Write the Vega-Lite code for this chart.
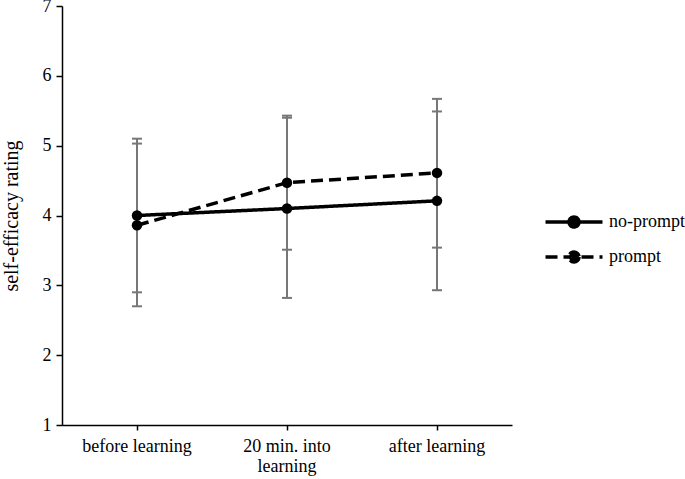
{
  "$schema": "https://vega.github.io/schema/vega-lite/v6.json",
  "width": 450,
  "height": 419,
  "autosize": {"type": "none"},
  "padding": {"left": 62, "top": 6, "right": 173, "bottom": 54},
  "background": "white",
  "config": {
    "view": {"stroke": null},
    "font": "Liberation Serif",
    "axis": {"labelFont": "Liberation Serif", "titleFont": "Liberation Serif", "labelColor": "black", "titleColor": "black", "domainColor": "black", "tickColor": "black", "domainWidth": 1.5, "tickWidth": 1.5, "grid": false},
    "legend": {"labelFont": "Liberation Serif", "labelColor": "black"}
  },
  "data": {
    "values": [
      {"time": "before learning", "series": "no-prompt", "mean": 4.00, "lo": 2.90, "hi": 5.10},
      {"time": "20 min. into learning", "series": "no-prompt", "mean": 4.10, "lo": 2.82, "hi": 5.40},
      {"time": "after learning", "series": "no-prompt", "mean": 4.21, "lo": 2.93, "hi": 5.49},
      {"time": "before learning", "series": "prompt", "mean": 3.86, "lo": 2.70, "hi": 5.03},
      {"time": "20 min. into learning", "series": "prompt", "mean": 4.47, "lo": 3.51, "hi": 5.43},
      {"time": "after learning", "series": "prompt", "mean": 4.61, "lo": 3.54, "hi": 5.67}
    ]
  },
  "encoding": {
    "x": {
      "field": "time", "type": "nominal",
      "sort": ["before learning", "20 min. into learning", "after learning"],
      "scale": {"paddingInner": 0, "paddingOuter": 0},
      "axis": {
        "title": null, "labelAngle": 0, "labelFontSize": 18, "labelPadding": 7, "tickSize": 5,
        "labelLineHeight": 20,
        "labelExpr": "datum.label == '20 min. into learning' ? ['20 min. into', 'learning'] : datum.label"
      }
    }
  },
  "layer": [
    {
      "mark": {"type": "rule", "color": "#777777", "strokeWidth": 2},
      "encoding": {
        "y": {"field": "lo", "type": "quantitative", "scale": {"domain": [1, 7], "nice": false, "zero": false},
          "axis": {"title": "self-efficacy rating", "titleFontSize": 20, "titleFontWeight": "normal", "titlePadding": 21, "labelFontSize": 18, "labelPadding": 5, "tickSize": 6, "format": "d", "values": [1, 2, 3, 4, 5, 6, 7]}},
        "y2": {"field": "hi"},
        "detail": {"field": "series"}
      }
    },
    {
      "mark": {"type": "tick", "color": "#777777", "thickness": 2, "size": 10, "orient": "horizontal", "opacity": 1},
      "encoding": {"y": {"field": "lo", "type": "quantitative"}}
    },
    {
      "mark": {"type": "tick", "color": "#777777", "thickness": 2, "size": 10, "orient": "horizontal", "opacity": 1},
      "encoding": {"y": {"field": "hi", "type": "quantitative"}}
    },
    {
      "mark": {"type": "line", "color": "black", "strokeWidth": 3.5, "strokeCap": "butt"},
      "encoding": {
        "y": {"field": "mean", "type": "quantitative"},
        "strokeDash": {
          "field": "series", "type": "nominal",
          "scale": {"domain": ["no-prompt", "prompt"], "range": [[1, 0], [12, 6]]},
          "legend": {
            "title": null, "orient": "none", "legendX": 500, "legendY": 204,
            "symbolType": "M-2.85,0H2.85M0.5,0A0.5,0.5 0 1,1 -0.5,0A0.5,0.5 0 1,1 0.5,0Z",
            "symbolSize": 400, "symbolStrokeWidth": 3.5, "symbolStrokeColor": "black", "symbolFillColor": "black",
            "labelFontSize": 18, "labelOffset": 23, "rowPadding": 11
          }
        }
      }
    },
    {
      "mark": {"type": "point", "filled": true, "color": "black", "opacity": 1, "size": 110},
      "encoding": {"y": {"field": "mean", "type": "quantitative"}}
    }
  ]
}
